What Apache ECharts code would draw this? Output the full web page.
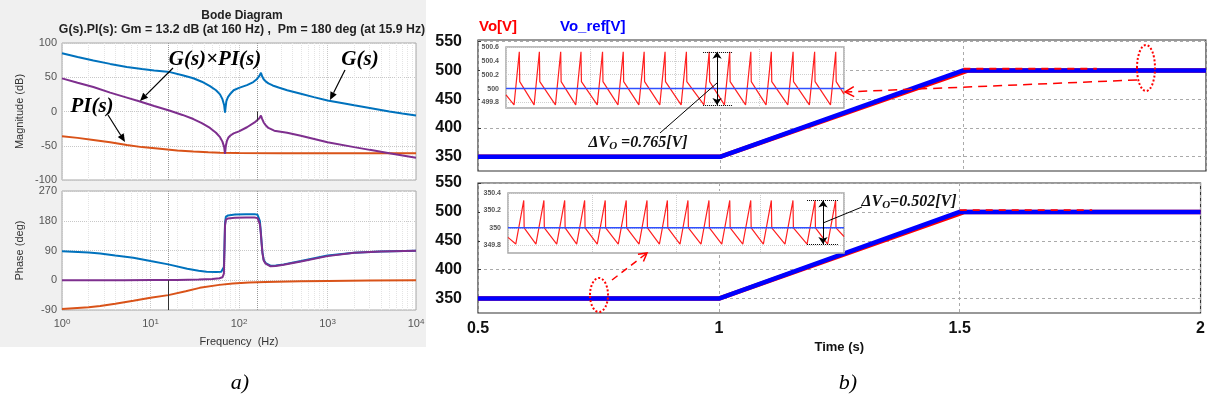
<!DOCTYPE html>
<html><head><meta charset="utf-8">
<script src="https://cdn.jsdelivr.net/npm/echarts@6/dist/echarts.min.js"></script>
<style>html,body{margin:0;padding:0;background:#fff}#c{width:1208px;height:405px}</style>
</head><body><div id="c"></div>
<script>
// ---------- Bode data ----------
const gMagF = [1,1.5,2.26,3.5,5.4,8,11,16.6,23,30.5,38,47,55,61,65,68,69.5,70.5,72,75,80,87,100,123,145,160,170,177,183,190,200,215,240,280,350,500,700,1000,1500,2000,3000,5000,7000,10000];
const gMagV = [85,79.5,74.5,69.5,65,62,60,57.5,53,48.5,43.5,37,31,25,18,9,-1.5,6,15,21,26,31,34.5,38.5,43,47.5,52,56.5,51,47,44,41,38,35,31,26,21,16,12,9,5,0,-3,-6];
const piMagF = [1,1.5,2.26,3.5,5.4,8,12.8,20,30.5,45,61,100,300,1000,10000];
const piMagV = [-36.2,-38.5,-41.5,-45,-49,-52,-54.5,-57,-58.4,-59.5,-60.3,-60.7,-61,-61,-61];
const gpiMagF = [1,1.5,2.26,3.5,5.4,7.6,11,16.6,23,30.5,38,47,55,61,65,68,69.5,71,73,76,80,87,100,123,150,170,177,183,190,200,215,250,350,500,1000,2000,3000,5000,10000];
const gpiMagV = [48.4,42,35.8,27.5,20.3,14.5,8,1,-5,-11,-17,-24,-31,-37.5,-44,-52,-62,-50,-43,-38,-35,-32,-29,-23,-16,-10,-6,-11,-16,-20,-24,-28,-31,-35.5,-45,-52,-56,-61,-67.5];

const gPhF = [1,2,2.7,4,6.4,10,15.9,26,35,43,55,63,66,67.5,68.5,69.5,71,75,90,120,150,162,168,172,176,180,184,190,200,227,260,320,500,1000,2000,4000,10000];
const gPhV = [88,84,81,75,68,58,48,35,29,26,25,26,28,40,100,170,192,196,199,200,200,198,192,180,150,115,85,62,52,44,45,48,58,75,83,87,89];
const gpiPhF = [1,5,10,20,35,50,60,65,67.5,68.5,69.5,71,75,90,120,150,162,168,172,176,180,184,190,200,227,260,320,500,1000,2000,4000,10000];
const gpiPhV = [0,0,0.5,1,2,4,6,9,20,90,165,183,187,189,190,190,188,182,170,145,112,82,60,50,42,43,47,57,73,83,87,89];
const piPhF = [1,2,2.7,4,6.4,10,15.9,25,36,60,85,130,200,500,1000,3000,10000];
const piPhV = [-87,-82,-78,-71,-62,-53,-45,-33,-23,-14,-10,-7,-5,-3,-2,-1,0];

const minorF = [2,3,4,5,6,7,8,9,20,30,40,50,60,70,80,90,200,300,400,500,600,700,800,900,2000,3000,4000,5000,6000,7000,8000,9000];

// ---------- Time-domain data ----------
const refT = [0.5,1.0,1.5,2.0];
const refV = [350,350,500,500];
const voT = [0.5,1.0,1.5,1.51,2.0];
const voV = [350,350,497,500,500];
const voDashT = [1.5,1.775];
const voDashV = [503,503];
const voltTicks = [350,400,450,500,550];

// zoom window 1 (around 500 V), time in ripple-window units
const z1T = [0,0.38,0.63,0.65,1.33,1.58,1.60,2.34,2.59,2.61,3.30,3.55,3.57,4.32,4.57,4.59,5.30,5.55,5.57,6.29,6.54,6.56,7.28,7.53,7.55,8.29,8.54,8.56,9.37,9.62,9.64,10.34,10.59,10.61,11.34,11.59,11.61,12.31,12.56,12.58,13.34,13.59,13.61,14.36,14.61,14.63,15.36,15.61,15.63,16];
const z1V = [499.91,499.765,500.53,500.10,499.765,500.53,500.10,499.765,500.53,500.10,499.765,500.53,500.10,499.765,500.53,500.10,499.765,500.53,500.10,499.765,500.53,500.10,499.765,500.53,500.10,499.765,500.53,500.10,499.765,500.53,500.10,499.765,500.53,500.10,499.765,500.53,500.10,499.765,500.53,500.10,499.765,500.53,500.10,499.765,500.53,500.10,499.765,500.53,500.10,499.92];
const z1Ticks = [499.8,500,500.2,500.4,500.6];
// zoom window 2 (around 350 V)
const z2T = [0,0.37,0.75,0.77,1.33,1.71,1.73,2.32,2.70,2.72,3.27,3.65,3.67,4.25,4.63,4.65,5.25,5.63,5.65,6.24,6.62,6.64,7.21,7.59,7.61,8.19,8.57,8.59,9.19,9.57,9.59,10.18,10.56,10.58,11.18,11.56,11.58,12.16,12.54,12.56,13.19,13.57,13.59,14.24,14.62,14.64,15.22,15.60,15.62,16];
const z2V = [349.89,349.813,350.315,350.0,349.813,350.315,350.0,349.813,350.315,350.0,349.813,350.315,350.0,349.813,350.315,350.0,349.813,350.315,350.0,349.813,350.315,350.0,349.813,350.315,350.0,349.813,350.315,350.0,349.813,350.315,350.0,349.813,350.315,350.0,349.813,350.315,350.0,349.813,350.315,350.0,349.813,350.315,350.0,349.813,350.315,350.0,349.813,350.315,350.0,349.90];
const z2Ticks = [349.8,350,350.2,350.4];

const zip = (a,b) => a.map((v,i)=>[v,b[i]]);

const BLUE='#0072BD', ORANGE='#D95319', PURPLE='#7E2F8E';
const SANS='"Liberation Sans", Arial, sans-serif';
const SERIF='"Liberation Serif", "Times New Roman", serif';

function arrowEls(x1,y1,x2,y2,o){
  const a=Math.atan2(y2-y1,x2-x1), L=o.head||8, W=o.w||3.5;
  const bx=x2-L*Math.cos(a), by=y2-L*Math.sin(a);
  const px=-Math.sin(a)*W, py=Math.cos(a)*W;
  const els=[{type:'line',z:100,shape:{x1,y1,x2:o.open?x2:bx,y2:o.open?y2:by},style:{stroke:o.color,lineWidth:o.lw||1.2,lineDash:o.dash||null}}];
  if(o.open) els.push({type:'polyline',z:100,shape:{points:[[bx+px,by+py],[x2,y2],[bx-px,by-py]]},style:{stroke:o.color,lineWidth:o.lw||1.2,fill:null}});
  else els.push({type:'polygon',z:100,shape:{points:[[bx+px,by+py],[x2,y2],[bx-px,by-py]]},style:{fill:o.color}});
  return els;
}
function txt(x,y,text,font,color,rich){
  return {type:'text',z:100,x,y,style:{text,font,fill:color||'#000',align:'center',verticalAlign:'middle',rich:rich||undefined}};
}

const supRich = {s:{fontSize:8,fontFamily:SANS,color:'#555',verticalAlign:'top',lineHeight:10,padding:[0,0,6,0]}};
const logLabel = v => '10{s|'+Math.round(Math.log10(v))+'}';
const dvRich = {sub:{font:'bold italic 11px '+SERIF,verticalAlign:'bottom',padding:[6,0,0,0]}};

const bodeX = (idx,showLabel) => ({
  type:'log', logBase:10, min:1, max:10000, gridIndex:idx,
  axisLine:{show:false}, axisTick:{show:false},
  axisLabel:{show:showLabel, formatter:logLabel, color:'#555', fontFamily:SANS, fontSize:11, margin:8, rich:supRich},
  splitLine:{show:true, lineStyle:{color:'#c8c8c8', type:'dotted'}},
  name: showLabel?'Frequency  (Hz)':'', nameLocation:'middle', nameGap:26,
  nameTextStyle:{color:'#333', fontFamily:SANS, fontSize:11}
});
const minorLines = {silent:true, symbol:'none', z:1, label:{show:false},
  lineStyle:{color:'#e4e4e4', type:'dotted', width:1}, data: minorF.map(v=>({xAxis:v}))};

const timeX = (idx,showLabel) => ({
  type:'value', min:0.5, max:2, interval:0.5, gridIndex:idx,
  axisLine:{show:false}, axisTick:{show:false},
  axisLabel:{show:showLabel, color:'#111', fontFamily:SANS, fontWeight:'bold', fontSize:16, margin:8},
  splitLine:{show:true, lineStyle:{color:'#aaa', type:[3,3]}},
  name: showLabel?'Time (s)':'', nameLocation:'middle', nameGap:28,
  nameTextStyle:{color:'#111', fontFamily:SANS, fontWeight:'bold', fontSize:13}
});
const timeY = (idx,mx) => ({
  type:'value', min:325, max:mx, gridIndex:idx,
  axisLine:{show:false}, axisTick:{show:true, inside:true, length:3, lineStyle:{color:'#333'}, customValues:voltTicks},
  axisLabel:{customValues:voltTicks, color:'#111', fontFamily:SANS, fontWeight:'bold', fontSize:16, margin:16},
  splitLine:{show:true, lineStyle:{color:'#aaa', type:[3,3]}}
});
const insetX = (idx) => ({
  type:'value', min:0, max:16, interval:4, gridIndex:idx, z:4,
  axisLine:{show:false}, axisTick:{show:false}, axisLabel:{show:false},
  splitLine:{show:true, lineStyle:{color:'#cfcfcf', type:'dotted'}}
});
const insetY = (idx,mn,mx,ticks) => ({
  type:'value', min:mn, max:mx, gridIndex:idx, z:4,
  axisLine:{show:false}, axisTick:{show:false, customValues:ticks},
  axisLabel:{customValues:ticks, color:'#555', fontFamily:SANS, fontWeight:'bold', fontSize:7, margin:7},
  splitLine:{show:true, lineStyle:{color:'#cfcfcf', type:'dotted'}}
});
const dvMark = (t1,t2,ta,hi,lo) => ({silent:true, symbol:'none', symbolSize:7, z:8, label:{show:false},
  lineStyle:{color:'#000', width:1, type:'solid'},
  data:[
    [{coord:[t1,hi],lineStyle:{type:'dotted',color:'#000'}},{coord:[t2,hi],lineStyle:{type:'dotted',color:'#000'}}],
    [{coord:[t1,lo],lineStyle:{type:'dotted',color:'#000'}},{coord:[t2,lo],lineStyle:{type:'dotted',color:'#000'}}],
    [{coord:[ta,hi],symbol:'arrow'},{coord:[ta,lo],symbol:'arrow'}]
  ]});

const graphics = [
  {type:'rect', z:-100, shape:{x:0,y:0,width:426,height:347}, style:{fill:'#f0f0f0'}},
  {type:'rect', z:3, shape:{x:480,y:45,width:366,height:65}, style:{fill:'#fff'}},
  {type:'rect', z:3, shape:{x:480,y:191,width:366,height:64}, style:{fill:'#fff'}},
  txt(215,60,'G(s)×PI(s)','bold italic 21px '+SERIF),
  txt(360,60,'G(s)','bold italic 21px '+SERIF),
  txt(92,107,'PI(s)','bold italic 21px '+SERIF),
  ...arrowEls(173,68,140,101,{color:'#000',lw:1.2}),
  ...arrowEls(345,70,330,100,{color:'#000',lw:1.2}),
  ...arrowEls(108,115,125,142,{color:'#000',lw:1.2}),
  txt(638,143,'ΔV{sub|O} =0.765[V]','bold italic 16px '+SERIF,'#111',dvRich),
  txt(909,202,'ΔV{sub|O}=0.502[V]','bold italic 16px '+SERIF,'#111',dvRich),
  {type:'line',z:100,shape:{x1:660,y1:133,x2:717,y2:83},style:{stroke:'#000',lineWidth:1}},
  {type:'line',z:100,shape:{x1:823,y1:223,x2:862,y2:207},style:{stroke:'#000',lineWidth:1}},
  {type:'ellipse',z:100,shape:{cx:1146,cy:68,rx:9,ry:23},style:{stroke:'#f00',lineWidth:2,lineDash:[2,2],fill:null}},
  {type:'ellipse',z:100,shape:{cx:599,cy:295,rx:9,ry:17},style:{stroke:'#f00',lineWidth:2,lineDash:[2,2],fill:null}},
  ...arrowEls(1137,80,845,92,{color:'#f00',lw:1.5,dash:[9,6],open:true,head:9,w:5}),
  ...arrowEls(612,280,647,253,{color:'#f00',lw:1.5,dash:[7,5],open:true,head:8,w:4.5}),
  txt(240,383,'a)','italic 22px '+SERIF,'#000'),
  txt(848,383,'b)','italic 22px '+SERIF,'#000')
];

const option = {
  animation:false,
  backgroundColor:'#fff',
  title:{text:'Bode Diagram', subtext:'G(s).PI(s): Gm = 13.2 dB (at 160 Hz) ,  Pm = 180 deg (at 15.9 Hz)',
    left:237, top:5, textAlign:'center', itemGap:2,
    textStyle:{fontFamily:SANS, fontSize:12, fontWeight:'bold', color:'#222'},
    subtextStyle:{fontFamily:SANS, fontSize:12.3, fontWeight:'bold', color:'#222'}},
  legend:{left:469, top:14, icon:'none', itemWidth:0, itemGap:38, selectedMode:false,
    textStyle:{fontFamily:SANS, fontWeight:'bold', fontSize:15},
    data:[{name:'Vo[V]', textStyle:{color:'#ff0000'}},{name:'Vo_ref[V]', textStyle:{color:'#0000ff'}}]},
  grid:[
    {left:62, top:43, width:354, height:137, show:true, backgroundColor:'#fff', borderColor:'#a8a8a8', borderWidth:1},
    {left:62, top:191, width:354, height:119, show:true, backgroundColor:'#fff', borderColor:'#a8a8a8', borderWidth:1},
    {left:478, top:40, width:728, height:131, show:true, backgroundColor:'#fff', borderColor:'#333', borderWidth:1.2},
    {left:478, top:183, width:728, height:130, show:true, backgroundColor:'#fff', borderColor:'#333', borderWidth:1.2},
    {left:506, top:47, width:338, height:61, z:4, show:true, backgroundColor:'#fff', borderColor:'#a8a8a8', borderWidth:1.5},
    {left:508, top:193, width:336, height:60, z:4, show:true, backgroundColor:'#fff', borderColor:'#a8a8a8', borderWidth:1.5}
  ],
  xAxis:[bodeX(0,false), bodeX(1,true), timeX(2,false), timeX(3,true), insetX(4), insetX(5)],
  yAxis:[
    {type:'value', min:-100, max:100, interval:50, gridIndex:0, axisLine:{show:false}, axisTick:{show:false},
     axisLabel:{color:'#555', fontFamily:SANS, fontSize:11, margin:5},
     splitLine:{lineStyle:{color:'#c8c8c8', type:'dotted'}},
     name:'Magnitude (dB)', nameLocation:'middle', nameGap:37, nameTextStyle:{color:'#333', fontFamily:SANS, fontSize:11}},
    {type:'value', min:-90, max:270, interval:90, gridIndex:1, axisLine:{show:false}, axisTick:{show:false},
     axisLabel:{color:'#555', fontFamily:SANS, fontSize:11, margin:5},
     splitLine:{lineStyle:{color:'#c8c8c8', type:'dotted'}},
     name:'Phase (deg)', nameLocation:'middle', nameGap:37, nameTextStyle:{color:'#333', fontFamily:SANS, fontSize:11}},
    timeY(2,553), timeY(3,550),
    insetY(4,499.72,500.6,z1Ticks), insetY(5,349.71,350.4,z2Ticks)
  ],
  series:[
    {name:'G(s)', type:'line', xAxisIndex:0, yAxisIndex:0, data:zip(gMagF,gMagV), showSymbol:false, lineStyle:{color:BLUE,width:2}, itemStyle:{color:BLUE},
     markLine:minorLines},
    {name:'PI(s)', type:'line', xAxisIndex:0, yAxisIndex:0, data:zip(piMagF,piMagV), showSymbol:false, lineStyle:{color:ORANGE,width:2}, itemStyle:{color:ORANGE},
     markLine:{silent:true, symbol:'none', z:1, label:{show:false}, lineStyle:{color:'#999', type:'dotted', width:1}, data:[{xAxis:15.9},{xAxis:160}]}},
    {name:'G(s)×PI(s)', type:'line', xAxisIndex:0, yAxisIndex:0, data:zip(gpiMagF,gpiMagV), showSymbol:false, lineStyle:{color:PURPLE,width:2}, itemStyle:{color:PURPLE},
     markLine:{silent:true, symbol:'none', label:{show:false}, lineStyle:{color:'#333', type:'solid', width:1}, data:[[{coord:[160,0]},{coord:[160,-13.2]}]]}},
    {name:'G(s) phase', type:'line', xAxisIndex:1, yAxisIndex:1, data:zip(gPhF,gPhV), showSymbol:false, lineStyle:{color:BLUE,width:2}, itemStyle:{color:BLUE},
     markLine:minorLines},
    {name:'PI(s) phase', type:'line', xAxisIndex:1, yAxisIndex:1, data:zip(piPhF,piPhV), showSymbol:false, lineStyle:{color:ORANGE,width:2}, itemStyle:{color:ORANGE},
     markLine:{silent:true, symbol:'none', z:1, label:{show:false}, lineStyle:{color:'#999', type:'dotted', width:1}, data:[{xAxis:15.9},{xAxis:160}]}},
    {name:'G(s)×PI(s) phase', type:'line', xAxisIndex:1, yAxisIndex:1, data:zip(gpiPhF,gpiPhV), showSymbol:false, lineStyle:{color:PURPLE,width:2}, itemStyle:{color:PURPLE},
     markLine:{silent:true, symbol:'none', label:{show:false}, lineStyle:{color:'#333', type:'solid', width:1}, data:[[{coord:[15.9,0]},{coord:[15.9,-90]}]]}},

    {name:'Vo[V]', type:'line', xAxisIndex:2, yAxisIndex:2, z:2, data:zip(voT,voV), showSymbol:false, lineStyle:{color:'#ff0000',width:4.5}, itemStyle:{color:'#ff0000'}},
    {name:'Vo_ref[V]', type:'line', xAxisIndex:2, yAxisIndex:2, z:3, data:zip(refT,refV), showSymbol:false, lineStyle:{color:'#0000ff',width:4.5}, itemStyle:{color:'#0000ff'}},
    {name:'Vo[V]', type:'line', xAxisIndex:2, yAxisIndex:2, z:3, data:zip(voDashT,voDashV), showSymbol:false, lineStyle:{color:'#ff0000',width:1.8,type:[7,6]}},
    {name:'Vo[V]', type:'line', xAxisIndex:3, yAxisIndex:3, z:2, data:zip(voT,voV), showSymbol:false, lineStyle:{color:'#ff0000',width:4.5}},
    {name:'Vo_ref[V]', type:'line', xAxisIndex:3, yAxisIndex:3, z:3, data:zip(refT,refV), showSymbol:false, lineStyle:{color:'#0000ff',width:4.5}},
    {name:'Vo[V]', type:'line', xAxisIndex:3, yAxisIndex:3, z:3, data:zip(voDashT,voDashV), showSymbol:false, lineStyle:{color:'#ff0000',width:1.8,type:[7,6]}},

    {name:'Vo[V]', type:'line', xAxisIndex:4, yAxisIndex:4, z:6, data:zip(z1T,z1V), showSymbol:false, lineStyle:{color:'#ff2020',width:1.2}},
    {name:'Vo_ref[V]', type:'line', xAxisIndex:4, yAxisIndex:4, z:6, data:[[0,500],[16,500]], showSymbol:false, lineStyle:{color:'#3050ff',width:1.5},
     markLine:dvMark(9.33,10.7,9.99,500.53,499.765)},
    {name:'Vo[V]', type:'line', xAxisIndex:5, yAxisIndex:5, z:6, data:zip(z2T,z2V), showSymbol:false, lineStyle:{color:'#ff2020',width:1.2}},
    {name:'Vo_ref[V]', type:'line', xAxisIndex:5, yAxisIndex:5, z:6, data:[[0,350],[16,350]], showSymbol:false, lineStyle:{color:'#3050ff',width:1.5},
     markLine:dvMark(14.24,15.71,15.0,350.315,349.813)}
  ],
  graphic: graphics
};
const chart = echarts.init(document.getElementById('c'));
chart.setOption(option);
</script>
</body></html>
